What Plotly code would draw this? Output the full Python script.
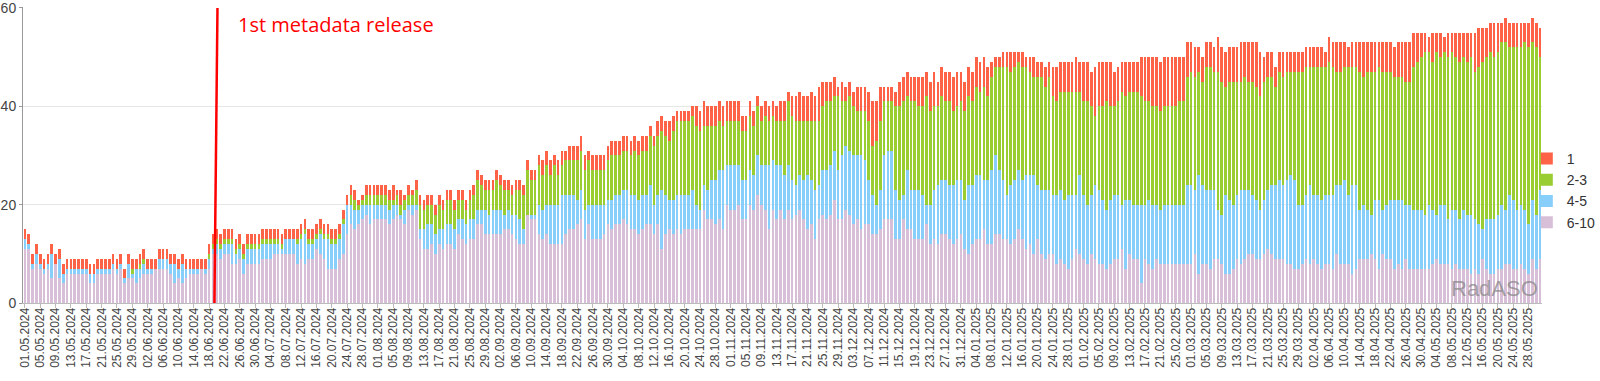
import pandas as pd
import plotly.graph_objects as go

# Daily categories, 01.05.2024 .. 31.05.2025
dates = [d.strftime("%d.%m.%Y") for d in pd.date_range("2024-05-01", "2025-05-31", freq="D")]
tick_labels = dates[::4]

# positions 6-10
s_6_10 = [
    11,11,7,8,7,6,7,5,8,5, 4,6,6,6,6,6,6,4,4,6, 6,6,6,7,6,7,4,5,5,4,
    5,6,6,6,7,7,7,7,6,4, 5,4,5,6,6,6,7,6,7,10, 10,9,10,10,8,8,9,6,8,8,
    8,8,9,9,9,10,10,10,10,10, 10,8,9,8,9,9,11,10,9,7, 7,7,9,10,14,16,15,16,17,18,
    16,17,17,17,17,16,17,18,17,16, 19,18,19,13,11,11,12,10,12,11, 12,12,11,14,13,12,13,13,16,16,
    14,14,14,14,14,15,15,14,13,12, 12,18,17,17,14,13,14,12,12,12, 12,14,15,15,16,17,13,16,13,13,
    13,14,16,15,16,16,17,16,15,15, 14,15,16,16,14,16,11,14,15,14, 15,14,15,15,15,15,15,19,17,17,
    16,17,15,20,19,19,20,17,17,20, 19,22,20,19,15,19,17,19,17,19, 17,18,19,17,15,16,13,17,18,17,
    18,21,17,17,19,18,16,17,15,16, 16,14,14,15,17,17,17,13,13,17, 15,15,13,13,13,16,12,13,12,14,
    14,13,12,13,14,11,10,12,13,13, 15,12,12,14,14,13,13,12,13,15, 13,11,12,10,13,10,9,10,10,8,
    9,8,7,9,11,10,9,8,10,9, 8,8,7,8,9,9,11,7,10,9, 9,4,9,8,7,9,8,8,8,8,
    8,8,8,8,8,10,6,8,8,7, 9,9,8,6,6,7,9,8,9,10, 10,9,9,10,11,10,9,9,9,8,
    8,7,7,8,9,8,9,8,7,8, 8,7,10,8,8,8,6,7,9,9, 9,10,9,7,10,9,9,7,8,7,
    9,7,7,7,7,7,7,8,9,8, 8,8,7,8,7,7,7,6,7,6, 9,7,6,6,7,7,8,8,7,7,
    8,7,6,9,7,9,
]

# positions 4-5
s_4_5 = [
    2,1,1,2,1,1,1,5,0,4, 2,1,1,1,1,1,1,2,2,1, 1,1,1,1,1,1,1,3,1,3,
    2,2,1,1,0,2,2,2,2,4, 2,4,2,1,1,1,0,1,2,1, 2,2,2,2,4,2,2,3,3,3,
    3,3,3,3,3,2,2,1,3,3, 3,4,4,6,3,3,2,4,4,6, 5,5,4,6,6,4,4,3,3,2,
    4,3,3,3,3,3,3,2,1,3, 1,2,1,2,4,5,4,4,3,4, 4,4,4,3,4,4,4,4,3,3,
    5,4,5,5,5,3,4,4,5,5, 3,0,1,1,6,6,6,8,8,8, 10,8,7,7,5,6,6,4,7,7,
    7,6,5,6,6,6,6,7,7,7, 7,7,6,8,6,6,12,8,6,7, 7,8,7,7,8,5,4,5,6,8,
    9,10,12,8,9,9,8,8,8,7, 7,8,8,9,13,10,11,9,9,9, 8,6,7,8,11,9,10,7,9,10,
    10,10,10,13,13,13,14,13,15,13, 9,8,6,8,13,14,14,10,8,5, 12,8,10,10,9,4,8,10,12,11,
    11,11,12,12,11,10,14,12,13,13, 10,13,15,16,13,12,9,12,12,12, 12,15,14,16,11,13,14,13,12,14,
    14,13,15,13,11,16,13,12,12,15, 15,13,12,13,13,13,9,14,11,11, 11,16,11,13,13,11,11,12,12,12,
    12,12,12,16,16,13,20,16,15,16, 14,10,10,16,15,13,13,15,14,13, 12,12,10,11,12,14,15,16,15,17,
    18,18,13,12,13,16,13,14,14,14, 14,15,14,16,17,14,18,17,10,11, 10,8,12,14,9,11,12,14,13,14,
    11,13,12,12,12,11,13,11,9,12, 12,9,12,11,10,12,11,12,10,10, 6,10,11,11,11,13,11,14,14,12,
    12,12,10,12,11,14,
]

# positions 2-3
s_2_3 = [
    0,0,0,0,0,0,0,0,0,0, 0,0,0,0,0,0,0,0,0,0, 0,0,0,0,0,0,0,0,1,0,
    1,1,0,0,0,0,0,0,0,0, 0,0,0,0,0,0,0,0,1,1, 1,1,1,1,1,1,1,1,1,1,
    1,1,1,1,1,1,1,1,0,0, 0,1,1,1,1,1,1,1,1,1, 1,1,1,1,0,2,2,1,1,2,
    2,2,2,2,2,2,1,2,2,2, 2,2,3,5,4,4,4,4,5,4, 5,5,4,4,4,3,4,5,6,5,
    4,5,4,6,5,5,4,4,5,6, 7,9,7,7,8,7,8,6,8,6, 6,7,7,7,8,8,8,9,7,7,
    7,7,8,9,8,8,8,8,8,9, 9,9,9,10,12,12,12,12,12,14, 15,15,15,15,15,16,16,12,13,11,
    11,10,9,9,9,9,9,10,10,11, 10,10,9,10,9,9,9,9,11,13, 13,13,11,12,11,12,14,13,13,14,
    13,11,15,11,9,11,10,9,9,10, 12,10,13,14,11,10,10,17,19,19, 15,18,18,17,18,22,19,17,16,17,
    16,17,15,15,16,18,18,17,18,17, 19,17,19,18,21,23,26,23,23,22, 23,22,21,20,22,23,21,23,20,19,
    20,22,21,21,21,17,19,21,18,14, 17,19,22,19,18,19,23,21,22,23, 23,22,21,20,20,20,20,20,20,20,
    20,21,21,22,23,23,21,21,25,25, 24,28,27,22,24,25,23,22,23,22, 23,23,23,24,23,22,20,22,22,22,
    21,22,27,27,26,24,26,26,27,26, 27,26,23,23,23,26,24,24,28,26, 28,29,26,27,28,27,26,25,25,25,
    25,25,29,30,31,33,31,30,33,30, 31,33,32,31,32,31,31,32,30,32, 34,33,34,33,33,33,34,30,31,33,
    32,34,36,32,34,27,
]

# position 1
s_1 = [
    2,2,2,2,2,2,2,2,2,2, 2,2,2,2,2,2,2,2,2,2, 2,2,2,2,2,2,2,2,2,2,
    2,2,2,2,2,2,2,2,2,2, 2,2,2,2,2,2,2,2,2,2, 2,2,2,2,2,2,2,2,2,2,
    2,2,2,2,2,2,2,2,2,2, 2,2,2,2,2,2,2,2,2,2, 2,2,2,2,2,2,2,1,1,2,
    2,2,2,2,2,2,3,1,3,1, 2,1,2,2,2,2,2,2,2,2, 2,2,2,2,2,2,2,2,2,2,
    2,2,2,2,2,2,2,2,2,2, 2,2,2,2,2,3,3,3,2,3, 3,2,3,3,3,3,3,2,3,3,
    3,3,3,3,3,3,3,3,3,3, 3,3,3,2,2,3,3,3,4,3, 2,2,2,2,2,4,4,5,4,4,
    4,4,4,4,4,4,4,3,3,3, 3,2,3,3,3,3,3,4,4,2, 4,5,6,5,5,6,5,7,5,4,
    4,4,2,4,3,3,3,5,5,5, 6,9,8,7,3,3,3,3,5,5, 5,5,5,6,6,5,6,7,5,6,
    6,6,7,7,6,6,6,6,6,6, 6,6,3,2,2,3,3,4,3,2, 3,2,3,4,3,3,4,3,6,7,
    6,6,6,6,7,6,8,8,7,10, 9,9,8,9,7,7,6,7,6,6, 6,8,9,9,10,10,10,10,10,10,
    10,9,9,7,6,6,5,5,5,5, 5,7,7,7,7,7,7,8,7,8, 8,9,9,5,5,5,4,4,5,4,
    4,4,4,4,4,4,4,4,4,3, 5,5,6,6,5,4,5,5,6,7, 6,6,6,5,6,6,6,6,7,7,
    8,8,7,6,5,4,3,6,4,5, 3,5,4,5,6,5,6,5,8,8, 7,6,6,7,6,4,5,5,5,5,
    5,4,5,5,5,6,
]

series = [
    ("6-10", s_6_10, "#d8bfd8"),
    ("4-5", s_4_5, "#87cefa"),
    ("2-3", s_2_3, "#9acd32"),
    ("1", s_1, "#ff6347"),
]

release_date = "20.06.2024"
release_label = "1st metadata release"

fig = go.Figure()
for name, vals, color in series:
    fig.add_trace(go.Bar(x=dates, y=vals, name=name, marker=dict(color=color, line=dict(width=0))))

rel_idx = dates.index(release_date)
fig.add_shape(type="line", xref="x", yref="y", x0=rel_idx - 0.6, x1=rel_idx + 0.2, y0=0, y1=60,
              line=dict(color="#ff0000", width=2.5), layer="above")
fig.add_annotation(x=rel_idx + 5.0, y=60, xref="x", yref="y", text=release_label, showarrow=False,
                   xanchor="left", yanchor="top", yshift=-1,
                   font=dict(family="Open Sans, sans-serif", size=20, color="#ff0000"))
fig.add_annotation(x=1, y=0, xref="paper", yref="paper", text="RadASO", showarrow=False,
                   xanchor="right", yanchor="bottom", yshift=0, xshift=-2,
                   font=dict(family="Liberation Sans, Arial, sans-serif", size=22, color="rgba(130,130,130,0.7)"))

fig.update_layout(
    template="none",
    width=1600, height=381,
    margin=dict(l=23, r=58, t=7, b=78, autoexpand=False),
    barmode="stack", bargap=0.3,
    plot_bgcolor="white", paper_bgcolor="white",
    font=dict(family="Liberation Sans, Arial, sans-serif", color="#444"),
    legend=dict(x=0.99, xanchor="left", y=0.38, yanchor="middle", traceorder="reversed",
                bgcolor="rgba(0,0,0,0)", font=dict(size=14, color="#333"),
                itemwidth=30, tracegroupgap=0),
    showlegend=True,
)
fig.update_xaxes(type="category", tickmode="array", tickvals=tick_labels, ticktext=tick_labels,
                 tickangle=-90, tickfont=dict(size=12, color="#444"), showgrid=False, automargin=False,
                 showline=True, linecolor="#bbbbbb", linewidth=1, ticks="outside", ticklen=4,
                 tickcolor="#bbbbbb", range=[-0.5, len(dates) - 0.5], zeroline=False,
                 ticklabelstandoff=-5)
fig.update_yaxes(range=[0, 60.2], tickvals=[0, 20, 40, 60], showgrid=True, gridcolor="#e6e6e6",
                 automargin=False, showline=True, linecolor="#999999", linewidth=1, ticks="outside",
                 ticklen=3, tickcolor="#999999", tickfont=dict(size=14, color="#444"), zeroline=False,
                 ticklabeloverflow="allow")

fig.write_html("out.html", config={"displayModeBar": False},
               post_script="document.body.style.margin='0';document.body.style.overflow='hidden';")
